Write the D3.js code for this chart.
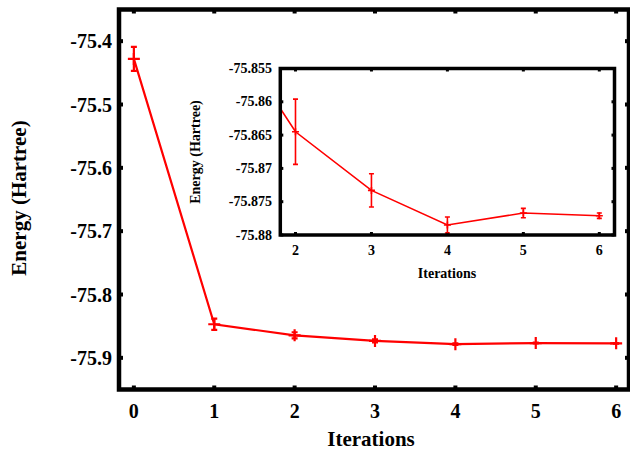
<!DOCTYPE html>
<html><head><meta charset="utf-8">
<script src="https://cdn.jsdelivr.net/npm/d3@7"></script>
<style>body{margin:0;background:#fff}svg{display:block}text{font-family:"Liberation Serif","Times New Roman",serif;font-weight:bold}</style>
</head><body>
<script>
const iterations = [0, 1, 2, 3, 4, 5, 6];
const energy = [-75.428, -75.847, -75.8645, -75.8733, -75.8785, -75.8767, -75.8771];
const errors = [0.019, 0.009, 0.0049, 0.0025, 0.0012, 0.0007, 0.0004];
const mainYTicks = [-75.4, -75.5, -75.6, -75.7, -75.8, -75.9];
const mainXTicks = [0, 1, 2, 3, 4, 5, 6];
const insetYTicks = [-75.855, -75.86, -75.865, -75.87, -75.875, -75.88];
const insetXTicks = [2, 3, 4, 5, 6];

const W = 630, H = 451;
const svg = d3.select("body").append("svg").attr("width", W).attr("height", H);
const data = iterations.map((x, i) => ({x, y: energy[i], e: errors[i]}));

function panel(g, x, y, opt) {
  const [x0, x1] = x.range(), [y0, y1] = y.range();
  const clipId = opt.id;
  g.append("clipPath").attr("id", clipId).append("rect")
    .attr("x", x0).attr("y", y1).attr("width", x1 - x0).attr("height", y0 - y1);
  const tk = g.append("g").attr("stroke", "#000").attr("stroke-width", opt.tickW);
  opt.xTicks.forEach(t => {
    tk.append("line").attr("x1", x(t)).attr("x2", x(t)).attr("y1", y0).attr("y2", y0 - opt.tickL);
    tk.append("line").attr("x1", x(t)).attr("x2", x(t)).attr("y1", y1).attr("y2", y1 + opt.tickL);
  });
  opt.yTicks.forEach(t => {
    tk.append("line").attr("y1", y(t)).attr("y2", y(t)).attr("x1", x0).attr("x2", x0 + opt.tickL);
    tk.append("line").attr("y1", y(t)).attr("y2", y(t)).attr("x1", x1).attr("x2", x1 - opt.tickL);
  });
  const dg = g.append("g").attr("clip-path", `url(#${clipId})`);
  dg.append("path").datum(data)
    .attr("fill", "none").attr("stroke", "#ff0000").attr("stroke-width", opt.lineW)
    .attr("d", d3.line().x(d => x(d.x)).y(d => y(d.y)));
  const eb = dg.append("g").attr("stroke", "#ff0000").attr("stroke-width", opt.lineW);
  data.forEach(d => {
    const cx = x(d.x), ya = y(d.y + d.e), yb = y(d.y - d.e);
    eb.append("line").attr("x1", cx).attr("x2", cx).attr("y1", ya).attr("y2", yb);
    eb.append("line").attr("x1", cx - opt.cap).attr("x2", cx + opt.cap).attr("y1", ya).attr("y2", ya);
    eb.append("line").attr("x1", cx - opt.cap).attr("x2", cx + opt.cap).attr("y1", yb).attr("y2", yb);
    eb.append("line").attr("x1", cx - opt.mk).attr("x2", cx + opt.mk).attr("y1", y(d.y)).attr("y2", y(d.y));
    eb.append("line").attr("x1", cx).attr("x2", cx).attr("y1", y(d.y) - opt.mk).attr("y2", y(d.y) + opt.mk);
  });
  g.append("rect").attr("x", x0).attr("y", y1).attr("width", x1 - x0).attr("height", y0 - y1)
    .attr("fill", "none").attr("stroke", "#000").attr("stroke-width", opt.frameW);
  g.append("g").selectAll("text").data(opt.xTicks).join("text")
    .attr("x", d => x(d)).attr("y", opt.xLabY).attr("text-anchor", "middle")
    .attr("font-size", opt.fs).text(d => d);
  g.append("g").selectAll("text").data(opt.yTicks).join("text")
    .attr("x", opt.yLabX).attr("y", d => y(d)).attr("text-anchor", "end")
    .attr("dominant-baseline", "central").attr("font-size", opt.fs).text(d => opt.fmt(d));
}

// main
const xM = d3.scaleLinear().domain([-0.185, 6.16]).range([119, 629]);
const yM = d3.scaleLinear().domain([-75.95, -75.35]).range([389.5, 9.5]);
const gM = svg.append("g");
panel(gM, xM, yM, {id: "cm", xTicks: mainXTicks, yTicks: mainYTicks, tickL: 4, tickW: 4,
  lineW: 2.2, cap: 3, mk: 6, frameW: 4.5, fs: 20, xLabY: 418, yLabX: 112, fmt: d => d.toFixed(1)});
gM.append("text").attr("x", 371).attr("y", 446).attr("text-anchor", "middle").attr("font-size", 21).text("Iterations");
gM.append("text").attr("transform", "translate(26,198) rotate(-90)").attr("text-anchor", "middle")
  .attr("font-size", 21).text("Energy (Hartree)");

// inset
const gI = svg.append("g");
gI.append("rect").attr("x", 280).attr("y", 68).attr("width", 335).attr("height", 167).attr("fill", "#fff");
const xI = d3.scaleLinear().domain([1.8, 6.2]).range([280.3, 614.5]);
const yI = d3.scaleLinear().domain([-75.88, -75.855]).range([235, 68.5]);
panel(gI, xI, yI, {id: "ci", xTicks: insetXTicks, yTicks: insetYTicks, tickL: 3, tickW: 3,
  lineW: 1.6, cap: 2.5, mk: 3.5, frameW: 3.5, fs: 14, xLabY: 255, yLabX: 272, fmt: d => String(d)});
gI.append("text").attr("x", 447).attr("y", 278).attr("text-anchor", "middle").attr("font-size", 14).text("Iterations");
gI.append("text").attr("transform", "translate(200,152) rotate(-90)").attr("text-anchor", "middle")
  .attr("font-size", 14).text("Energy (Hartree)");
</script>
</body></html>
